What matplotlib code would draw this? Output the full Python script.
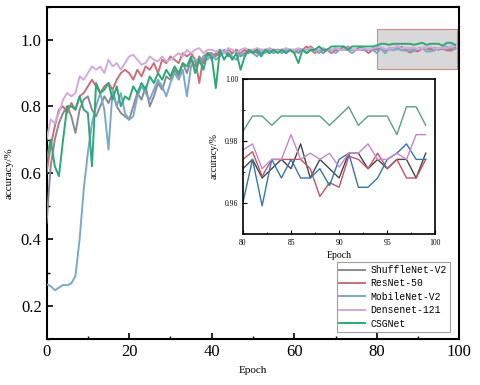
import matplotlib
matplotlib.use("Agg")
import matplotlib.pyplot as plt
from matplotlib.patches import Rectangle
from matplotlib.ticker import MultipleLocator

plt.rcParams['font.family'] = ['Liberation Serif', 'DejaVu Serif']

epochs = list(range(100))

shufflenet = [0.45, 0.62, 0.70, 0.75, 0.78, 0.80, 0.77, 0.72, 0.79, 0.82,
              0.83, 0.79, 0.77, 0.80, 0.83, 0.81, 0.84, 0.80, 0.78, 0.77,
              0.76, 0.80, 0.84, 0.82, 0.86, 0.80, 0.83, 0.87, 0.85, 0.89,
              0.88, 0.91, 0.89, 0.93, 0.90, 0.94, 0.92, 0.95, 0.93, 0.96,
              0.94, 0.96, 0.95, 0.97, 0.95, 0.96, 0.97, 0.95, 0.96, 0.97,
              0.96, 0.97, 0.96, 0.97, 0.97, 0.96, 0.97, 0.97, 0.96, 0.97,
              0.97, 0.96, 0.97, 0.97, 0.98, 0.97, 0.97, 0.96, 0.97, 0.97,
              0.97, 0.97, 0.98, 0.97, 0.97, 0.97, 0.98, 0.97, 0.97, 0.97,
              0.971, 0.974, 0.968, 0.971, 0.974, 0.971, 0.979, 0.968, 0.974, 0.971,
              0.968, 0.976, 0.976, 0.971, 0.974, 0.971, 0.974, 0.974, 0.968, 0.976]

resnet = [0.60, 0.68, 0.74, 0.79, 0.80, 0.78, 0.81, 0.79, 0.83, 0.84,
          0.86, 0.88, 0.86, 0.84, 0.86, 0.87, 0.85, 0.88, 0.90, 0.91,
          0.90, 0.88, 0.91, 0.89, 0.92, 0.91, 0.93, 0.90, 0.94, 0.93,
          0.95, 0.94, 0.93, 0.96, 0.95, 0.96, 0.94, 0.87, 0.95, 0.96,
          0.96, 0.95, 0.97, 0.96, 0.97, 0.96, 0.97, 0.96, 0.97, 0.96,
          0.97, 0.96, 0.97, 0.97, 0.96, 0.97, 0.97, 0.96, 0.97, 0.97,
          0.96, 0.97, 0.97, 0.98, 0.97, 0.96, 0.97, 0.97, 0.97, 0.96,
          0.97, 0.97, 0.97, 0.98, 0.97, 0.97, 0.97, 0.97, 0.96, 0.97,
          0.974, 0.9765, 0.9685, 0.974, 0.974, 0.974, 0.974, 0.971, 0.962, 0.9665,
          0.965, 0.975, 0.974, 0.971, 0.976, 0.971, 0.974, 0.968, 0.968, 0.974]

mobilenet = [0.265, 0.26, 0.247, 0.255, 0.263, 0.262, 0.268, 0.29, 0.40, 0.55,
             0.66, 0.75, 0.80, 0.84, 0.79, 0.67, 0.85, 0.80, 0.84, 0.78,
             0.76, 0.77, 0.83, 0.86, 0.84, 0.82, 0.85, 0.88, 0.86, 0.83,
             0.87, 0.90, 0.88, 0.91, 0.83, 0.92, 0.94, 0.93, 0.95, 0.94,
             0.96, 0.94, 0.95, 0.97, 0.96, 0.95, 0.94, 0.96, 0.95, 0.97,
             0.96, 0.95, 0.97, 0.96, 0.97, 0.96, 0.97, 0.96, 0.97, 0.97,
             0.96, 0.97, 0.97, 0.96, 0.97, 0.97, 0.96, 0.97, 0.97, 0.97,
             0.96, 0.97, 0.97, 0.97, 0.96, 0.97, 0.97, 0.97, 0.97, 0.97,
             0.960, 0.974, 0.959, 0.974, 0.968, 0.974, 0.968, 0.968, 0.971, 0.9655,
             0.974, 0.976, 0.965, 0.965, 0.968, 0.974, 0.976, 0.979, 0.974, 0.974]

densenet = [0.70, 0.76, 0.75, 0.78, 0.82, 0.84, 0.83, 0.84, 0.89, 0.88,
            0.90, 0.92, 0.91, 0.92, 0.90, 0.94, 0.92, 0.93, 0.91, 0.93,
            0.95, 0.955, 0.94, 0.925, 0.93, 0.95, 0.94, 0.935, 0.95, 0.935,
            0.94, 0.95, 0.96, 0.95, 0.97, 0.96, 0.97, 0.975, 0.96, 0.97,
            0.97, 0.965, 0.97, 0.96, 0.975, 0.97, 0.96, 0.97, 0.975, 0.97,
            0.97, 0.975, 0.97, 0.97, 0.975, 0.97, 0.965, 0.97, 0.975, 0.97,
            0.97, 0.975, 0.97, 0.97, 0.975, 0.97, 0.97, 0.975, 0.97, 0.97,
            0.975, 0.97, 0.97, 0.975, 0.97, 0.97, 0.97, 0.975, 0.97, 0.975,
            0.977, 0.979, 0.971, 0.974, 0.974, 0.982, 0.974, 0.976, 0.974, 0.976,
            0.9715, 0.976, 0.976, 0.979, 0.974, 0.974, 0.976, 0.974, 0.982, 0.982]

csgnet = [0.64, 0.70, 0.62, 0.59, 0.70, 0.80, 0.80, 0.79, 0.83, 0.79,
          0.78, 0.62, 0.87, 0.84, 0.85, 0.87, 0.82, 0.86, 0.80, 0.83,
          0.82, 0.86, 0.84, 0.87, 0.85, 0.89, 0.87, 0.90, 0.88, 0.91,
          0.89, 0.92, 0.90, 0.93, 0.92, 0.95, 0.90, 0.94, 0.91, 0.96,
          0.95, 0.855, 0.97, 0.94, 0.96, 0.94, 0.96, 0.91, 0.95, 0.97,
          0.96, 0.97, 0.95, 0.97, 0.96, 0.97, 0.96, 0.97, 0.96, 0.97,
          0.96, 0.93, 0.97, 0.96, 0.97, 0.97, 0.98, 0.97, 0.97, 0.98,
          0.98, 0.98, 0.98, 0.97, 0.98, 0.98, 0.98, 0.98, 0.98, 0.98,
          0.983, 0.988, 0.988, 0.985, 0.988, 0.988, 0.988, 0.988, 0.988, 0.985,
          0.988, 0.991, 0.985, 0.988, 0.988, 0.988, 0.982, 0.991, 0.991, 0.985]

labels = ["ShuffleNet-V2", "ResNet-50", "MobileNet-V2", "Densenet-121", "CSGNet"]
series = [shufflenet, resnet, mobilenet, densenet, csgnet]
main_colors = ["#8a8a94", "#c8707a", "#7aaac8", "#d2aadc", "#2ea876"]
inset_colors = ["#44444c", "#c05464", "#3676a8", "#c486cc", "#5c9e82"]

fig = plt.figure(figsize=(4.8, 3.85), dpi=100)
ax = fig.add_axes([0.097, 0.119, 0.86, 0.864])

for y, lab, c in zip(series, labels, main_colors):
    ax.plot(epochs, y, color=c, lw=1.4, label=lab, zorder=3)

ax.add_patch(Rectangle((80, 0.912), 19.5, 0.12, facecolor="#d8d8d8",
                       edgecolor="#d08a8a", lw=0.8, zorder=2))

ax.set_xlim(0, 100)
ax.set_ylim(0.1, 1.1)
ax.xaxis.set_major_locator(MultipleLocator(20))
ax.xaxis.set_minor_locator(MultipleLocator(10))
ax.yaxis.set_major_locator(MultipleLocator(0.2))
ax.yaxis.set_minor_locator(MultipleLocator(0.1))
ax.set_yticks([0.2, 0.4, 0.6, 0.8, 1.0])
ax.tick_params(which='both', direction='in', labelsize=12)
ax.tick_params(which='major', length=4, width=1.2)
ax.tick_params(which='minor', length=2.5, width=1)
for s in ax.spines.values():
    s.set_linewidth(1.5)
ax.set_xlabel("Epoch", fontsize=8)
ax.set_ylabel("accuracy/%", fontsize=8, labelpad=5)

leg = ax.legend(loc='lower right', bbox_to_anchor=(0.977, 0.023), borderaxespad=0,
                prop={'family': 'Liberation Mono', 'size': 7}, fancybox=False,
                edgecolor="#888888", handlelength=2.6, labelspacing=0.35,
                borderpad=0.3, handletextpad=0.6)
leg.get_frame().set_linewidth(0.8)

# inset zoom on the last 20 epochs
axin = fig.add_axes([0.506, 0.393, 0.401, 0.402])
for y, c in zip(series, inset_colors):
    axin.plot(epochs[80:], y[80:], color=c, lw=1.0)
axin.set_xlim(80, 100)
axin.set_ylim(0.95, 1.00)
axin.xaxis.set_major_locator(MultipleLocator(5))
axin.xaxis.set_minor_locator(MultipleLocator(2.5))
axin.set_yticks([0.96, 0.98, 1.00])
axin.yaxis.set_minor_locator(MultipleLocator(0.01))
axin.set_yticklabels(["0.96", "0.98", "1.00"])
axin.tick_params(which='both', direction='in', labelsize=5.5)
axin.tick_params(which='major', length=3)
axin.tick_params(which='minor', length=1.5)
for s in axin.spines.values():
    s.set_linewidth(1.2)
axin.set_xlabel("Epoch", fontsize=7, labelpad=3)
axin.set_ylabel("accuracy/%", fontsize=7)

fig.savefig("out.png", dpi=100)
